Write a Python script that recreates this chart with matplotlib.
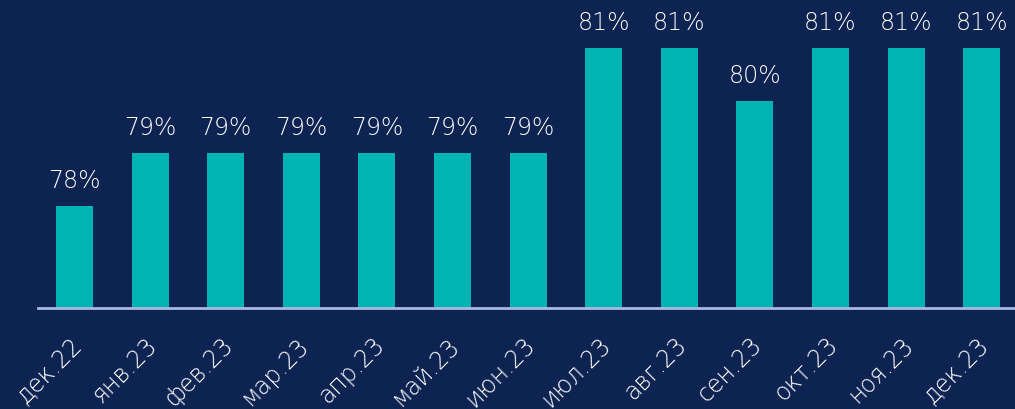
import matplotlib
matplotlib.use("Agg")
import matplotlib.pyplot as plt
import matplotlib.transforms as mtransforms

categories = ["дек.22", "янв.23", "фев.23", "мар.23", "апр.23", "май.23", "июн.23",
              "июл.23", "авг.23", "сен.23", "окт.23", "ноя.23", "дек.23"]
values = [78, 79, 79, 79, 79, 79, 79, 81, 81, 80, 81, 81, 81]
labels = [f"{v}%" for v in values]

BG = "#0d2352"
BAR = "#00b4b3"

plt.rcParams['font.family'] = ['DejaVu Sans']

fig = plt.figure(figsize=(10.15, 4.09), dpi=100, facecolor=BG)
ax = fig.add_axes([38/1015, (409-308)/409, (1015-38)/1015, 308/409])
ax.set_facecolor(BG)

x = list(range(len(categories)))
ax.bar(x, values, width=0.49, color=BAR, bottom=0, zorder=2)
ax.set_ylim(76.06, 81.91)
ax.set_xlim(-0.483, 12.44)

for xi, v, lab in zip(x, values, labels):
    ax.annotate(lab, (xi, v), xytext=(0, 13), textcoords="offset points",
                ha="center", va="baseline", color="white", fontsize=17, fontweight="light")

for s in ["top", "right", "left"]:
    ax.spines[s].set_visible(False)
ax.spines["bottom"].set_color("#a9b9e2")
ax.spines["bottom"].set_linewidth(2)
ax.spines["bottom"].set_zorder(3)
ax.set_yticks([])
ax.set_xticks(x)
ax.set_xticklabels(categories, rotation=45, ha="right", va="top", rotation_mode="anchor",
                   color="white", fontsize=17, fontweight="light")
ax.tick_params(axis="x", length=0, pad=0)
offset = mtransforms.ScaledTranslation(-5/100, -25/100, fig.dpi_scale_trans)
for t in ax.get_xticklabels():
    t.set_transform(t.get_transform() + offset)

fig.savefig("out.png", dpi=100, facecolor=BG)
